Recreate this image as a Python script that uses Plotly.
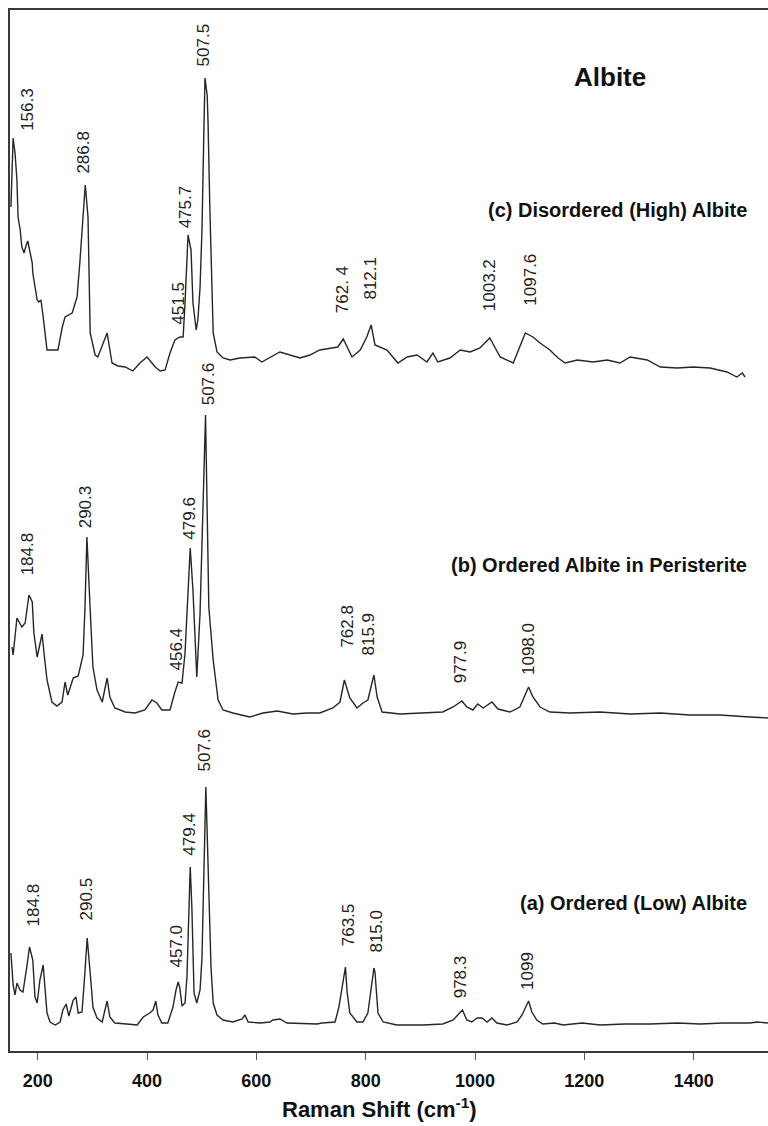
import plotly.graph_objects as go

# ---------------- data ----------------
# Raman shift (cm-1) and stacked intensity (arbitrary units, offset included)
c_shift = [151, 153, 155, 158.5, 162, 164, 168, 171, 175, 179, 182, 184, 190, 191, 199, 202, 206, 210,
           217, 226, 237, 245, 250, 263, 272, 277, 281, 287, 292, 294, 296, 305, 310, 327, 336, 347,
           360, 374, 387, 400, 415, 424, 433, 442, 451, 460, 466, 469.5, 473, 475, 480.5, 484, 490,
           493, 497, 500.5, 504, 506, 510, 511.5, 515, 519, 521, 528, 539, 552, 570, 597, 610, 643,
           661, 680, 698, 716, 738, 749, 759, 775, 790, 802, 810, 817, 839, 859, 876, 894, 912, 923,
           932, 954, 973, 991, 1009, 1027, 1046, 1070, 1092, 1106, 1119, 1137, 1152, 1165, 1187,
           1216, 1242, 1265, 1284, 1315, 1339, 1370, 1399, 1430, 1461, 1479, 1489, 1494]
c_intensity = [844, 876, 913, 898, 871, 834, 821, 804, 798, 806, 810, 804, 788, 778, 751, 749, 751, 734,
               701, 701, 701, 724, 734, 738, 754, 788, 824, 866, 834, 784, 718, 696, 694, 718, 688, 685,
               684, 680, 688, 694, 684, 680, 681, 698, 711, 714, 714, 748, 798, 816, 801, 748, 721,
               731, 764, 821, 921, 973, 956, 931, 841, 771, 718, 699, 693, 691, 693, 694, 689, 699,
               696, 693, 696, 701, 703, 704, 712, 694, 701, 714, 726, 706, 701, 688, 694, 696, 689, 698,
               689, 693, 701, 699, 703, 713, 694, 688, 718, 714, 708, 701, 693, 688, 691,
               689, 691, 688, 694, 691, 684, 683, 684, 683, 679, 674, 678, 674]

b_shift = [153, 155, 162, 171, 177, 184, 190, 193, 199, 208, 211.5, 217, 226, 235, 244.5, 250, 255, 265,
           274, 283, 286.5, 290, 296, 301, 308.5, 318, 327, 332, 341, 360, 378, 396, 409, 418, 427, 442,
           451, 457, 464, 469.5, 479, 484, 491, 497, 507, 513, 521, 530, 539, 557, 588, 612, 638, 649,
           667, 693, 716, 740, 753, 761, 771, 784, 795, 804, 815, 821, 830, 863, 905, 941, 960, 976,
           985, 996, 1005, 1015, 1031, 1042, 1064, 1082, 1098, 1106, 1119, 1137, 1174, 1229, 1284,
           1339, 1393, 1448, 1503, 1536]
b_intensity = [404, 396, 433, 424, 428, 456, 449, 418, 394, 417, 398, 371, 349, 345, 349, 369, 356, 373,
               375, 396, 444, 514, 441, 384, 361, 349, 373, 354, 343, 339, 338, 341, 351, 348, 341, 341,
               359, 369, 368, 398, 503, 461, 374, 438, 636, 444, 391, 351, 341, 338, 334, 338, 340, 339,
               337, 338, 338, 343, 349, 371, 353, 343, 348, 351, 376, 354, 339, 337, 338, 339, 344, 350,
               344, 341, 347, 343, 349, 342, 339, 344, 364, 354, 344, 339, 338, 339, 337,
               338, 336, 336, 334, 333]

a_shift = [151, 155, 158.5, 162, 167.6, 173, 180, 185, 191, 195, 199, 204, 210, 213, 217, 222.5, 232,
           241, 246, 252, 257, 265, 270, 274, 281, 285, 290.5, 296, 301, 308.5, 318, 323, 327, 332,
           341, 363, 382, 393, 405, 411, 416, 420, 427, 438, 447.5, 453, 457, 460, 464, 469.5, 473,
           479, 482, 486, 491, 497, 500.5, 507.6, 511.5, 517, 521, 528, 539, 557, 574, 579, 585, 607,
           625, 630, 643, 656, 711, 720, 744, 751, 763, 766, 771, 784, 795, 804, 815, 817, 822.5, 832,
           857, 905, 941, 960, 977, 985, 994, 1004, 1013, 1022, 1031, 1040, 1058.5, 1077, 1086, 1098,
           1104, 1113, 1124, 1146, 1161, 1196, 1229, 1274, 1320, 1370, 1412, 1454, 1503, 1516, 1536]
a_intensity = [98, 66, 56, 68, 61, 59, 84, 104, 91, 54, 48, 71, 86, 64, 38, 29, 26,
               29, 41, 47, 35, 51, 54, 38, 39, 68, 113, 78, 44, 33, 29, 41, 50, 34,
               28, 27, 26, 34, 38, 41, 50, 36, 28, 28, 44, 61, 69, 63, 45, 48, 74,
               184, 144, 58, 48, 61, 93, 264, 198, 84, 48, 36, 31, 29, 32, 36, 29, 28,
               29, 31, 32, 28, 27, 28, 29, 44, 84, 59, 38, 29, 29, 38, 83, 79, 38, 29,
               26, 26, 27, 31, 41, 31, 29, 33, 33, 29, 33, 28, 26, 29, 36, 50,
               39, 31, 27, 28, 26, 28, 26, 27, 27, 28, 27, 28, 28, 29, 28]

# peak labels: text, label x (cm-1), label base (intensity units)
c_labels = ["156.3", "286.8", "451.5", "475.7", "507.5", "762. 4", "812.1", "1003.2", "1097.6"]
c_label_x = [181, 283, 457, 471, 504, 758, 808, 1026, 1100]
c_label_y = [918, 875, 724, 821, 983, 736, 749, 738, 743]

b_labels = ["184.8", "290.3", "456.4", "479.6", "507.6", "762.8", "815.9", "977.9", "1098.0"]
b_label_x = [182, 288, 453, 477, 513, 766, 806, 974, 1097]
b_label_y = [474, 521, 378, 509, 644, 401, 394, 366, 374]

a_labels = ["184.8", "290.5", "457.0", "479.4", "507.6", "763.5", "815.0", "978.3", "1099"]
a_label_x = [193, 290, 453, 477, 506, 769, 819, 974, 1095]
a_label_y = [123, 129, 81, 193, 278, 103, 96, 51, 59]

series_names = ["(c) Disordered (High) Albite", "(b) Ordered Albite in Peristerite",
                "(a) Ordered (Low) Albite"]
x_ticks = [200, 400, 600, 800, 1000, 1200, 1400]

# ---------------- figure ----------------
FONT = "Liberation Sans, Arial, sans-serif"
LINE = "#262626"

fig = go.Figure()
for xs, ys in [(c_shift, c_intensity), (b_shift, b_intensity), (a_shift, a_intensity)]:
    fig.add_trace(go.Scatter(x=xs, y=ys, mode="lines",
                             line=dict(color=LINE, width=1.4), showlegend=False,
                             hoverinfo="skip"))

annotations = []
for labels, lx, ly in [(c_labels, c_label_x, c_label_y),
                       (b_labels, b_label_x, b_label_y),
                       (a_labels, a_label_x, a_label_y)]:
    for t, x, y in zip(labels, lx, ly):
        annotations.append(dict(x=x, y=y, xref="x", yref="y", text=t, showarrow=False,
                                textangle=-90, xanchor="center", yanchor="bottom",
                                font=dict(family=FONT, size=17, color="#222")))

# series names (right aligned)
for name, yp in zip(series_names, [0.8079, 0.4669, 0.1422]):
    annotations.append(dict(x=0.975, y=yp, xref="paper", yref="paper", text=name,
                            showarrow=False, xanchor="right", yanchor="middle",
                            font=dict(family=FONT, size=20, color="#111", weight="bold")))
annotations.append(dict(x=0.7916, y=0.9356, xref="paper", yref="paper", text="Albite",
                        showarrow=False, xanchor="center", yanchor="middle",
                        font=dict(family=FONT, size=26, color="#111", weight="bold")))
annotations.append(dict(x=0.488, y=-0.0548, xref="paper", yref="paper",
                        text="Raman Shift (cm<sup>-1</sup>)", showarrow=False,
                        xanchor="center", yanchor="middle",
                        font=dict(family=FONT, size=22, color="#111", weight="bold")))

fig.update_layout(
    width=768, height=1126,
    margin=dict(l=10, r=0, t=10, b=75),
    paper_bgcolor="white", plot_bgcolor="white",
    annotations=annotations,
    xaxis=dict(range=[149.3, 1536], tickvals=x_ticks, ticktext=[str(v) for v in x_ticks],
               ticks="outside", ticklen=7, tickwidth=1.3, tickcolor="#555",
               showline=True, linecolor="#3a3a3a", linewidth=1.6, mirror=True,
               showgrid=False, zeroline=False, ticklabelstandoff=6,
               tickfont=dict(family=FONT, size=18, color="#111", weight="bold")),
    yaxis=dict(range=[0, 1041], showticklabels=False, ticks="", showgrid=False,
               zeroline=False, showline=True, linecolor="#3a3a3a", linewidth=1.6,
               mirror=False),
)

fig.write_html("out.html", config={"displayModeBar": False})

# remove the default page margin so the 768x1126 figure fills the window exactly
with open("out.html", "r", encoding="utf-8") as f:
    html = f.read()
html = html.replace("<head>", "<head><style>html,body{margin:0;padding:0;overflow:hidden;}</style>", 1)
with open("out.html", "w", encoding="utf-8") as f:
    f.write(html)
